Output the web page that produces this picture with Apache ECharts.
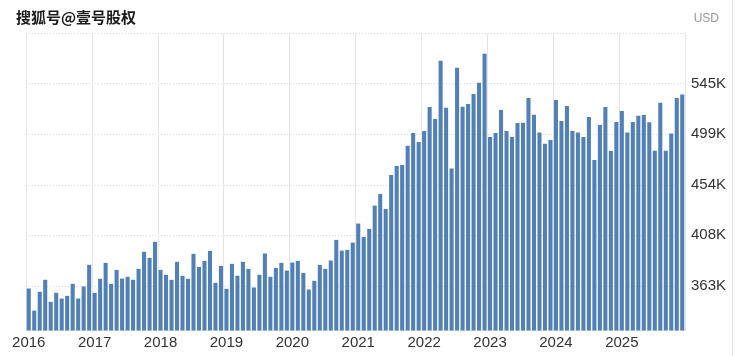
<!DOCTYPE html>
<html>
<head>
<meta charset="utf-8">
<script src="https://cdn.jsdelivr.net/npm/echarts@6/dist/echarts.min.js"></script>
<style>html,body{margin:0;padding:0;background:#fff;}#c{width:738px;height:356px;}</style>
</head>
<body>
<div id="c"></div>
<script>
const years = ['2016','2017','2018','2019','2020','2021','2022','2023','2024','2025'];
const categories = [];
years.forEach(y => { for (let m = 1; m <= 12; m++) categories.push(y + '-' + (m < 10 ? '0' + m : m)); });

// Monthly values in thousands of USD
const values2016 = [360.7, 340.8, 357.7, 368.5, 348.7, 356.8, 351.7, 354.1, 364.9, 351.7, 362.5, 381.9];
const values2017 = [356.8, 369.4, 383.7, 364.9, 377.4, 369.6, 371.2, 368.5, 378.3, 393.6, 388.2, 402.6];
const values2018 = [377.4, 373.0, 368.5, 384.6, 372.1, 369.4, 391.8, 380.1, 385.5, 394.5, 365.8, 381.0];
const values2019 = [360.4, 382.8, 372.1, 384.6, 378.3, 361.6, 373.0, 392.1, 371.2, 379.2, 383.7, 376.8];
const values2020 = [384.0, 385.5, 374.7, 359.8, 367.6, 381.9, 378.3, 385.8, 404.3, 394.7, 395.4, 401.9];
const values2021 = [419.0, 407.0, 414.2, 435.1, 445.6, 432.1, 462.6, 470.7, 471.6, 488.9, 500.3, 492.2];
const values2022 = [502.1, 523.6, 512.9, 565.2, 523.0, 468.3, 558.9, 523.9, 526.3, 535.3, 545.4, 571.4];
const values2023 = [496.7, 500.3, 520.9, 502.1, 496.7, 509.3, 509.5, 531.7, 516.7, 500.6, 490.7, 494.0];
const values2024 = [529.9, 511.1, 524.5, 502.1, 500.6, 496.7, 514.7, 476.1, 507.5, 523.6, 484.2, 510.2];
const values2025 = [520.0, 500.6, 510.2, 515.8, 516.5, 509.9, 484.4, 527.5, 484.4, 499.7, 531.7, 534.7];

const values = [].concat(values2016, values2017, values2018, values2019, values2020,
  values2021, values2022, values2023, values2024, values2025).map(v => Math.round(v * 1000));

const yTicks = [363000, 408400, 453800, 499200, 544600, 590000];
const yMin = 323000;
const yMax = 590000;

const chart = echarts.init(document.getElementById('c'), null, {renderer: 'canvas'});
chart.setOption({
  animation: false,
  backgroundColor: '#ffffff',
  title: [
    {
      text: '搜狐号@壹号股权',
      left: 11, top: 5,
      textStyle: {
        fontFamily: 'Noto Sans CJK SC', fontSize: 15, fontWeight: 'bold', color: '#1a1a1a',
        textBorderColor: '#ffffff', textBorderWidth: 2
      }
    },
    {
      text: 'USD',
      right: 14, top: 8,
      textStyle: {fontFamily: 'Liberation Sans', fontSize: 12, fontWeight: 'normal', color: '#999999'}
    }
  ],
  graphic: [{
    type: 'line', shape: {x1: 732.5, y1: 0, x2: 732.5, y2: 356},
    style: {stroke: '#e3e3e3', lineWidth: 1}, silent: true
  }],
  grid: {left: 26, right: 53, top: 33, bottom: 25.5, containLabel: false},
  xAxis: {
    type: 'category',
    data: categories,
    boundaryGap: true,
    axisLine: {show: true, lineStyle: {color: '#e8e8e8'}},
    axisTick: {show: false},
    axisLabel: {
      interval: (i) => i % 12 === 0,
      formatter: (v) => v.slice(0, 4),
      fontFamily: 'Liberation Sans', fontSize: 15, color: '#333333', margin: 5
    },
    splitLine: {
      show: true,
      interval: (i) => i % 12 === 0,
      lineStyle: {color: '#e6e6e6', width: 1, type: 'solid'}
    }
  },
  yAxis: {
    type: 'value',
    position: 'right',
    min: yMin,
    max: yMax,
    axisLine: {show: true, lineStyle: {color: '#e6e6e6'}},
    axisTick: {show: false, customValues: yTicks},
    axisLabel: {
      customValues: yTicks.slice(0, 5),
      formatter: (v) => Math.round(v / 1000) + 'K',
      fontFamily: 'Liberation Sans', fontSize: 15, color: '#333333', margin: 6
    },
    splitLine: {show: true, lineStyle: {color: '#d9d9d9', width: 1, type: [1, 2]}}
  },
  series: [{
    type: 'bar',
    data: values,
    barCategoryGap: '26%',
    itemStyle: {color: '#5080b6'},
    silent: true
  }]
});
</script>
</body>
</html>
